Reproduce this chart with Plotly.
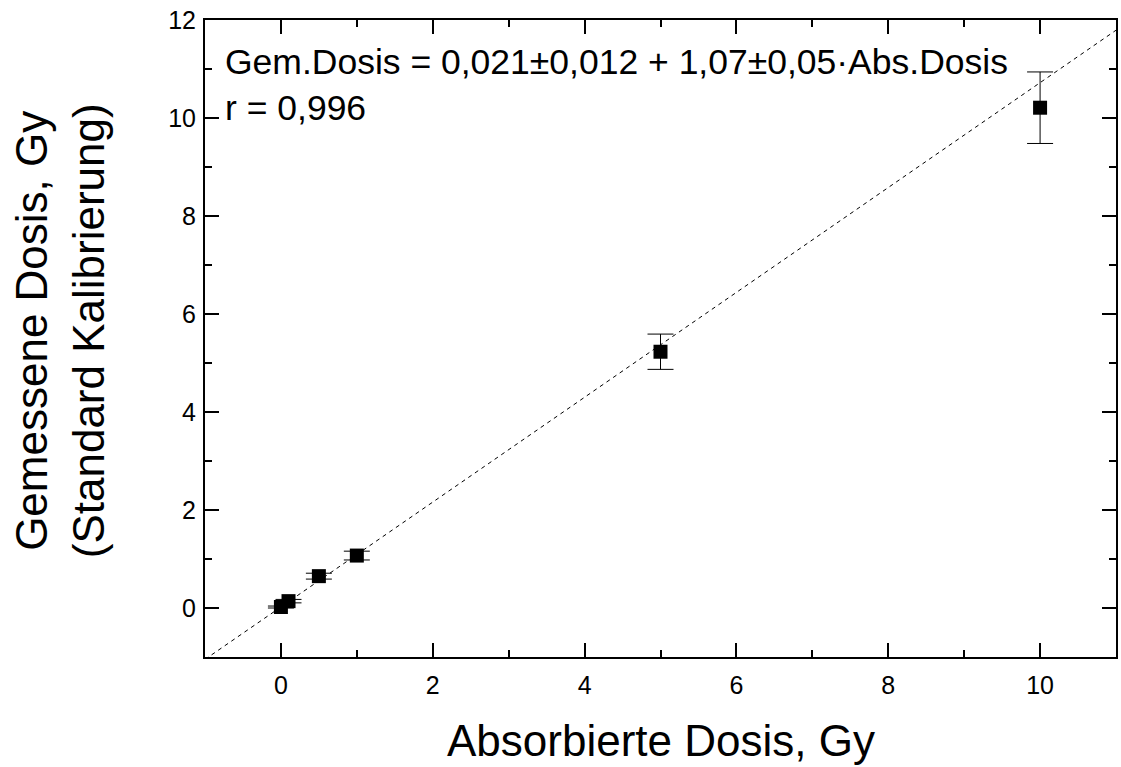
import plotly.graph_objects as go

# Data
abs_dose = [0, 0.1, 0.5, 1, 5, 10]
meas_dose = [0.02, 0.14, 0.65, 1.07, 5.23, 10.21]
meas_err = [0.02, 0.035, 0.06, 0.09, 0.36, 0.73]
fit_intercept = 0.021
fit_slope = 1.07
fit_x = [-1, 11]
x_ticks = [0, 2, 4, 6, 8, 10]
y_ticks = [0, 2, 4, 6, 8, 10, 12]

FONT = "Arial, Liberation Sans, sans-serif"

fig = go.Figure()
fig.add_trace(go.Scatter(
    x=fit_x, y=[fit_intercept + fit_slope * v for v in fit_x],
    mode="lines", line=dict(color="black", width=1, dash="4px,4px"),
    showlegend=False, hoverinfo="skip"))
fig.add_trace(go.Scatter(
    x=abs_dose, y=meas_dose, mode="markers",
    marker=dict(symbol="square", size=14, color="black"),
    error_y=dict(type="data", array=meas_err, color="black", thickness=1, width=13),
    showlegend=False))

axis_common = dict(
    showline=True, linecolor="black", linewidth=2, mirror="allticks",
    ticks="inside", ticklen=14, tickwidth=2, tickcolor="black",
    showgrid=False, zeroline=False,
    tickfont=dict(family=FONT, size=25, color="black"),
)
fig.update_xaxes(range=[-1, 11], tickvals=x_ticks, ticklabelstandoff=5,
                 minor=dict(ticks="inside", ticklen=7, tickwidth=2, dtick=1, tickcolor="black", showgrid=False),
                 **axis_common)
fig.update_yaxes(range=[-1, 12], tickvals=y_ticks, ticklabelstandoff=2,
                 minor=dict(ticks="inside", ticklen=7, tickwidth=2, dtick=1, tickcolor="black", showgrid=False),
                 **axis_common)

fig.add_annotation(text="Gem.Dosis = 0,021±0,012 + 1,07±0,05·Abs.Dosis<br>r = 0,996",
                   xref="paper", yref="paper", x=0.020, y=0.968,
                   xanchor="left", yanchor="top", align="left", showarrow=False,
                   font=dict(family=FONT, size=35.5, color="black"))
fig.add_annotation(text="Absorbierte Dosis, Gy", xref="paper", yref="paper",
                   x=0.5, y=-0.0895, xanchor="center", yanchor="top", showarrow=False,
                   font=dict(family=FONT, size=44, color="black"))
fig.add_annotation(text="Gemessene Dosis, Gy<br>(Standard Kalibrierung)", xref="paper", yref="paper",
                   x=-0.2187, y=0.5126, xanchor="left", yanchor="middle", textangle=-90, showarrow=False,
                   font=dict(family=FONT, size=44, color="black"))

fig.update_layout(width=1121, height=767, margin=dict(l=205, r=3, t=20, b=110),
                  plot_bgcolor="white", paper_bgcolor="white",
                  font=dict(family=FONT, color="black"))
fig.write_html("out.html")
